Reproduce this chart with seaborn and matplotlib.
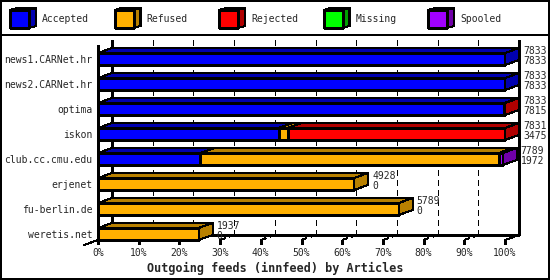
import numpy as np
import pandas as pd
import seaborn as sns
import matplotlib
matplotlib.use("Agg")
import matplotlib.pyplot as plt
from matplotlib.patches import Polygon, Rectangle

# ---------------- data ----------------
hosts = ["news1.CARNet.hr", "news2.CARNet.hr", "optima", "iskon",
         "club.cc.cmu.edu", "erjenet", "fu-berlin.de", "weretis.net"]
offered = [7833, 7833, 7833, 7831, 7789, 4928, 5789, 1937]
accepted = [7833, 7833, 7815, 3475, 1972, 0, 0, 0]
refused = [0, 0, 0, 175, 5742, 4928, 5789, 1937]
rejected = [0, 0, 18, 4181, 0, 0, 0, 0]
missing = [0, 0, 0, 0, 0, 0, 0, 0]
spooled = [0, 0, 0, 0, 75, 0, 0, 0]
series_names = ["Accepted", "Refused", "Rejected", "Missing", "Spooled"]
tick_labels = ["0%", "10%", "20%", "30%", "40%", "50%", "60%", "70%", "80%", "90%", "100%"]
xlabel = "Outgoing feeds (innfeed) by Articles"

front_colors = ["#0000FF", "#FFB000", "#FF0000", "#00FF00", "#A000FF"]
dark_colors = ["#0000B0", "#B88000", "#B00000", "#00A000", "#7000A8"]

W, H = 550, 280
MONO = ["DejaVu Sans Mono"]
sns.set_style("white")
plt.rcParams["font.family"] = MONO

fig = plt.figure(figsize=(W / 100, H / 100), dpi=100)
fig.patch.set_facecolor("white")


def px(x0, y0, x1, y1):
    return [x0 / W, 1 - y1 / H, (x1 - x0) / W, (y1 - y0) / H]


ax = fig.add_axes(px(98, 45, 505, 240))
ax.set_facecolor("none")

scale = 100.0 / max(offered)
series = [accepted, refused, rejected, missing, spooled]
pct = [np.array(s, float) * scale for s in series]
cums = np.cumsum(np.vstack(pct), axis=0)

df = pd.DataFrame({"host": hosts})
for k in range(len(series) - 1, -1, -1):
    df["v"] = cums[k]
    sns.barplot(data=df, x="v", y="host", orient="h", color=front_colors[k],
                saturation=1, width=0.48, edgecolor="black", linewidth=0.75,
                ax=ax, zorder=2)

ax.set_xlim(0, 100)
ax.set_ylim(7.24, -0.56)
ax.set_xlabel("")
ax.set_ylabel("")
for s in ax.spines.values():
    s.set_visible(False)
ax.set_xticks([])
ax.tick_params(axis="y", length=0, pad=4, labelsize=7)
for p in ax.patches:
    p.set_clip_on(False)
    p.set_antialiased(False)

# pixel -> data conversion for depth offsets
p0 = ax.transData.transform((0, 0))
p1 = ax.transData.transform((1, 1))
sx = p1[0] - p0[0]
sy = p0[1] - p1[1]
DX, DY = 14 / sx, 5 / sy
hh = 0.24

lw = 0.75
# 3D faces
for i in range(len(hosts)):
    t = i - hh
    b = i + hh
    left = 0.0
    last = None
    for k in range(len(series)):
        w = pct[k][i]
        if w <= 0:
            continue
        r = left + w
        ax.add_patch(Polygon([(left, t), (r, t), (r + DX, t - DY), (left + DX, t - DY)],
                             closed=True, fc=dark_colors[k], ec="black", lw=lw,
                             zorder=3, antialiased=False, clip_on=False))
        last = k
        left = r
    if last is not None:
        ax.add_patch(Polygon([(left, t), (left + DX, t - DY), (left + DX, b - DY), (left, b)],
                             closed=True, fc=dark_colors[last], ec="black", lw=lw,
                             zorder=3, antialiased=False, clip_on=False))
    tot = left
    ax.text(tot + DX + 4 / sx, i - 8 / sy, f"{offered[i]}", fontsize=7,
            va="center", ha="left", clip_on=False)
    ax.text(tot + DX + 4 / sx, i + 2 / sy, f"{accepted[i]}", fontsize=7,
            va="center", ha="left", clip_on=False)

# back wall, floor and grid
ytop_f, yfl_f = -0.56, 7.24
ytop_b, yfl_b = ytop_f - DY, yfl_f - DY
kw = dict(color="black", lw=lw, clip_on=False, antialiased=False)
ax.plot([0, 0], [ytop_f, yfl_f], zorder=1, **kw)
ax.plot([DX, DX], [ytop_b, yfl_b], zorder=1, **kw)
ax.plot([100 + DX, 100 + DX], [ytop_b, yfl_b], zorder=1, **kw)
ax.plot([DX, 100 + DX], [yfl_b, yfl_b], zorder=1, **kw)
ax.plot([100, 100 + DX], [yfl_f, yfl_b], zorder=1, **kw)
ax.plot([-DX, 0], [yfl_f + DY, yfl_f], zorder=1, **kw)
for p in range(10, 100, 10):
    ax.plot([p + DX, p + DX], [ytop_b, yfl_b], color="black", lw=lw,
            dashes=(5, 4), zorder=1, clip_on=False, antialiased=False)
for j, p in enumerate(range(0, 101, 10)):
    ax.plot([p, p + DX], [yfl_f, yfl_b], color="black", lw=lw, dashes=(5, 4),
            zorder=1, clip_on=False, antialiased=False)
    ax.plot([p, p], [yfl_f, yfl_f + 4 / sy], zorder=1, **kw)
    ax.text(p, yfl_f + 13 / sy, tick_labels[j], fontsize=7, ha="center",
            va="center", clip_on=False)

fig.text(0.5, 1 - 268 / H, xlabel, fontsize=8.5, fontweight="bold",
         ha="center", va="center")

# legend strip
lax = fig.add_axes([0, 0, 1, 1])
lax.set_xlim(0, W)
lax.set_ylim(H, 0)
lax.axis("off")
lax.patch.set_alpha(0)
for k, name in enumerate(series_names):
    x0 = 10 + 104.5 * k
    lax.add_patch(Polygon([(x0, 10), (x0 + 19, 10), (x0 + 26, 8), (x0 + 7, 8)], closed=True,
                          fc=dark_colors[k], ec="black", lw=lw, antialiased=False))
    lax.add_patch(Polygon([(x0 + 19, 10), (x0 + 26, 8), (x0 + 26, 26), (x0 + 19, 28)], closed=True,
                          fc=dark_colors[k], ec="black", lw=lw, antialiased=False))
    lax.add_patch(Rectangle((x0, 10), 19, 18, fc=front_colors[k], ec="black", lw=lw,
                            antialiased=False))
    lax.text(x0 + 32, 19.5, name, fontsize=7, ha="left", va="center")
lax.plot([0, W], [35, 35], color="black", lw=1.2, antialiased=False)
lax.add_patch(Rectangle((0.7, 0.7), W - 1.6, H - 1.6, fc="none", ec="black", lw=1.4,
                        antialiased=False))

fig.savefig("out.png", dpi=100)
